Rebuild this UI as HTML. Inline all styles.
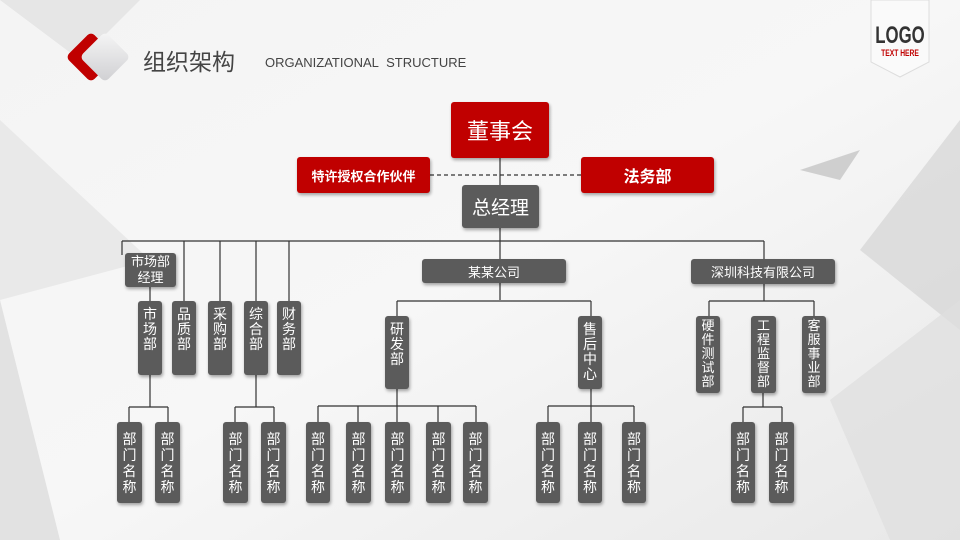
<!DOCTYPE html>
<html><head><meta charset="utf-8"><style>
*{margin:0;padding:0;box-sizing:border-box}
body{width:960px;height:540px;overflow:hidden;position:relative;background:#eeeeee;font-family:"Liberation Sans","Noto Sans CJK SC",sans-serif}
.b{position:absolute;background:#5b5b5b;color:#fff;border-radius:3px;box-shadow:1px 2px 3px rgba(0,0,0,.35);text-align:center}
.r{background:#c00000}
.v{font-size:14px;line-height:15px;padding-top:6px}
.v5{font-size:13px;line-height:14px;padding-top:3px}
.l{font-size:14px;line-height:16px;padding-top:9px}
.h{font-size:13px;display:flex;align-items:center;justify-content:center}
</style></head><body>
<svg width="960" height="540" style="position:absolute;left:0;top:0">
<defs><linearGradient id="g" x1="0" y1="0" x2="1" y2="1"><stop offset="0" stop-color="#f4f4f4"/><stop offset="0.5" stop-color="#f7f7f7"/><stop offset="1" stop-color="#e8e8e8"/></linearGradient>
<linearGradient id="d" x1="0" y1="0" x2="1" y2="1"><stop offset="0" stop-color="#f6f6f6"/><stop offset="1" stop-color="#cfcfd2"/></linearGradient></defs>
<rect width="960" height="540" fill="url(#g)"/>
<polygon points="0,0 140,0 80,60" fill="#e6e6e6"/>
<polygon points="960,120 960,330 860,250" fill="#d4d4d4" opacity=".7"/>
<polygon points="800,170 860,150 840,180" fill="#cfcfcf"/>
<polygon points="830,400 960,300 960,540 890,540" fill="#dedede" opacity=".7"/>
<polygon points="0,300 60,540 0,540" fill="#e2e2e2"/>
<polygon points="0,120 150,260 0,300" fill="#e9e9e9"/>
<g stroke="#333" stroke-width="1.2" fill="none">
<line x1="500" y1="158" x2="500" y2="300"/>
<line x1="430" y1="175" x2="581" y2="175" stroke-dasharray="4,3"/>
<line x1="122" y1="241" x2="764" y2="241"/>
<line x1="122" y1="241" x2="122" y2="255"/><line x1="150" y1="287" x2="150" y2="301"/>
<line x1="184" y1="241" x2="184" y2="301"/><line x1="220" y1="241" x2="220" y2="301"/>
<line x1="256" y1="241" x2="256" y2="301"/><line x1="289" y1="241" x2="289" y2="301"/>
<line x1="764" y1="241" x2="764" y2="301"/>
<line x1="150" y1="375" x2="150" y2="407"/><line x1="129" y1="407" x2="168" y2="407"/><line x1="129" y1="407" x2="129" y2="422"/><line x1="168" y1="407" x2="168" y2="422"/>
<line x1="256" y1="375" x2="256" y2="407"/><line x1="235" y1="407" x2="274" y2="407"/><line x1="235" y1="407" x2="235" y2="422"/><line x1="274" y1="407" x2="274" y2="422"/>
<line x1="397" y1="301" x2="591" y2="301"/><line x1="397" y1="301" x2="397" y2="316"/><line x1="591" y1="301" x2="591" y2="316"/>
<line x1="397" y1="389" x2="397" y2="422"/><line x1="318" y1="406" x2="476" y2="406"/>
<line x1="318" y1="406" x2="318" y2="422"/><line x1="358" y1="406" x2="358" y2="422"/><line x1="438" y1="406" x2="438" y2="422"/><line x1="476" y1="406" x2="476" y2="422"/>
<line x1="591" y1="389" x2="591" y2="422"/><line x1="548" y1="406" x2="634" y2="406"/><line x1="548" y1="406" x2="548" y2="422"/><line x1="634" y1="406" x2="634" y2="422"/>
<line x1="709" y1="301" x2="814" y2="301"/><line x1="709" y1="301" x2="709" y2="316"/><line x1="814" y1="301" x2="814" y2="316"/>
<line x1="763" y1="393" x2="763" y2="407"/><line x1="743" y1="407" x2="782" y2="407"/><line x1="743" y1="407" x2="743" y2="422"/><line x1="782" y1="407" x2="782" y2="422"/>
</g>
<rect x="-18" y="-18" width="36" height="36" rx="5" fill="#c00000" transform="translate(91,57) rotate(45)"/>
<rect x="-18" y="-18" width="36" height="36" rx="5" fill="url(#d)" transform="translate(105,57) rotate(45)"/>
<polygon points="871,0 929,0 929,62 900,77 871,62" fill="#fafafa" stroke="#ddd"/>
<text x="0" y="0" text-anchor="middle" font-family="Liberation Sans" font-weight="bold" font-size="24" fill="#333" transform="translate(900,43) scale(0.7,1)">LOGO</text>
<text x="0" y="0" text-anchor="middle" font-family="Liberation Sans" font-weight="bold" font-size="9" fill="#c00000" transform="translate(900,56) scale(0.75,1)">TEXT HERE</text>
</svg>
<div style="position:absolute;left:143px;top:43px;font-size:23px;color:#444">组织架构</div>
<div style="position:absolute;left:265px;top:55px;font-size:13px;color:#444">ORGANIZATIONAL&nbsp;&nbsp;STRUCTURE</div>
<div class="b r h" style="left:451px;top:102px;width:98px;height:56px;font-size:22px">董事会</div>
<div class="b r h" style="left:297px;top:157px;width:133px;height:36px;font-weight:bold">特许授权合作伙伴</div>
<div class="b r h" style="left:581px;top:157px;width:133px;height:36px;font-size:16px;font-weight:bold">法务部</div>
<div class="b h" style="left:462px;top:185px;width:77px;height:43px;font-size:19px">总经理</div>
<div class="b h" style="left:422px;top:259px;width:144px;height:24px">某某公司</div>
<div class="b h" style="left:691px;top:259px;width:144px;height:25px">深圳科技有限公司</div>
<div class="b h" style="left:125px;top:253px;width:51px;height:34px;line-height:16px">市场部<br>经理</div>
<div class="b v" style="left:138px;top:301px;width:24px;height:74px">市<br>场<br>部</div>
<div class="b v" style="left:172px;top:301px;width:24px;height:74px">品<br>质<br>部</div>
<div class="b v" style="left:208px;top:301px;width:24px;height:74px">采<br>购<br>部</div>
<div class="b v" style="left:244px;top:301px;width:24px;height:74px">综<br>合<br>部</div>
<div class="b v" style="left:277px;top:301px;width:24px;height:74px">财<br>务<br>部</div>
<div class="b v" style="left:385px;top:316px;width:24px;height:73px">研<br>发<br>部</div>
<div class="b v" style="left:578px;top:316px;width:24px;height:73px">售<br>后<br>中<br>心</div>
<div class="b v5" style="left:696px;top:316px;width:24px;height:77px">硬<br>件<br>测<br>试<br>部</div>
<div class="b v5" style="left:751px;top:316px;width:25px;height:77px">工<br>程<br>监<br>督<br>部</div>
<div class="b v5" style="left:802px;top:316px;width:24px;height:77px">客<br>服<br>事<br>业<br>部</div>
<div class="b l" style="left:117px;top:422px;width:25px;height:81px">部<br>门<br>名<br>称</div>
<div class="b l" style="left:155px;top:422px;width:25px;height:81px">部<br>门<br>名<br>称</div>
<div class="b l" style="left:223px;top:422px;width:25px;height:81px">部<br>门<br>名<br>称</div>
<div class="b l" style="left:261px;top:422px;width:25px;height:81px">部<br>门<br>名<br>称</div>
<div class="b l" style="left:306px;top:422px;width:24px;height:81px">部<br>门<br>名<br>称</div>
<div class="b l" style="left:346px;top:422px;width:25px;height:81px">部<br>门<br>名<br>称</div>
<div class="b l" style="left:385px;top:422px;width:25px;height:81px">部<br>门<br>名<br>称</div>
<div class="b l" style="left:426px;top:422px;width:25px;height:81px">部<br>门<br>名<br>称</div>
<div class="b l" style="left:463px;top:422px;width:25px;height:81px">部<br>门<br>名<br>称</div>
<div class="b l" style="left:536px;top:422px;width:24px;height:81px">部<br>门<br>名<br>称</div>
<div class="b l" style="left:578px;top:422px;width:24px;height:81px">部<br>门<br>名<br>称</div>
<div class="b l" style="left:622px;top:422px;width:24px;height:81px">部<br>门<br>名<br>称</div>
<div class="b l" style="left:731px;top:422px;width:24px;height:81px">部<br>门<br>名<br>称</div>
<div class="b l" style="left:769px;top:422px;width:25px;height:81px">部<br>门<br>名<br>称</div>
</body></html>
